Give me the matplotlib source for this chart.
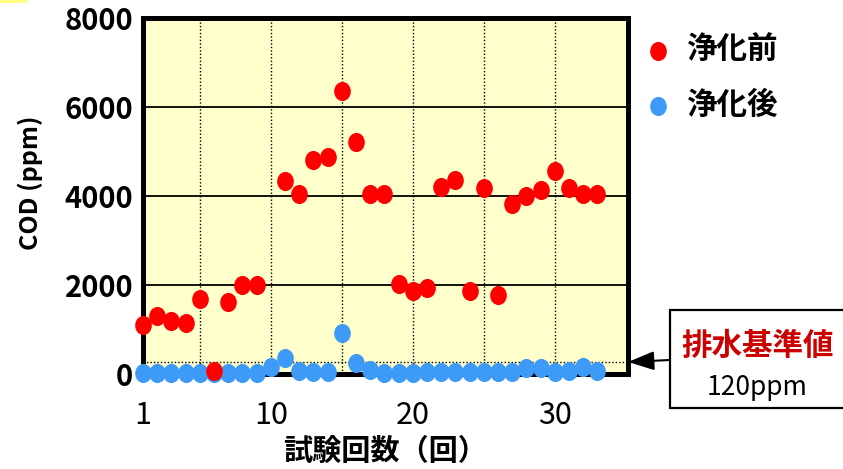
import numpy as np
import matplotlib
matplotlib.use("Agg")
import matplotlib.pyplot as plt
from matplotlib.path import Path
from matplotlib.transforms import Affine2D
from matplotlib.patches import Rectangle

plt.rcParams['font.family'] = ['Noto Sans CJK JP', 'DejaVu Sans']

# 試験回数 1..33
runs = np.arange(1, 34)
# 浄化前 COD (ppm) - run 10 has no value
before = [1100, 1310, 1190, 1140, 1690, 75, 1625, 2010, 2010, np.nan,
          4340, 4040, 4800, 4870, 6360, 5220, 4040, 4040, 2020, 1865,
          1940, 4200, 4360, 1870, 4170, 1775, 3820, 4010, 4130, 4570,
          4190, 4040, 4040]
# 浄化後 COD (ppm)
after = [15, 15, 15, 15, 15, 15, 15, 15, 15, 150,
         370, 65, 50, 50, 930, 255, 90, 30, 30, 30,
         50, 50, 50, 50, 50, 50, 50, 130, 130, 50,
         60, 165, 60]
yticks = [0, 2000, 4000, 6000, 8000]
xticks = [1, 10, 20, 30]
limit_line = 270   # drawn position of the 120ppm guide line
limit_title = "排水基準値"
limit_text = "120ppm"

# slightly tall ellipse marker
ell = Path.unit_circle().transformed(Affine2D().scale(0.87, 1.0))

fig = plt.figure(figsize=(8.43, 4.69), dpi=100)
ax = fig.add_axes([0.1696, 0.2026, 0.5754, 0.7590])
ax.set_facecolor('#ffffcc')

ax.scatter(runs, after, s=190, marker=ell, color='#3d9bf7', lw=0,
           zorder=4, clip_on=False, label='浄化後')
ax.scatter(runs, before, s=190, marker=ell, color='#ff0000', lw=0,
           zorder=5, clip_on=False, label='浄化前')

ax.set_xlim(1, 35.15)
ax.set_ylim(0, 8000)

for v in [2000, 4000, 6000]:
    ax.axhline(v, color='black', lw=1.3, zorder=1)
for v in range(5, 35, 5):
    ax.axvline(v, color='black', lw=1.0, ls=(0, (1, 1.5)), zorder=1)
ax.axhline(limit_line, color='black', lw=1.0, ls=(0, (1, 1.5)), zorder=1)

for s in ax.spines.values():
    s.set_linewidth(3.6)
    s.set_color('black')
    s.set_zorder(3)

ax.set_yticks(yticks)
ax.set_yticklabels([str(v) for v in yticks], fontsize=21, fontweight='bold')
ax.set_xticks(xticks)
ax.set_xticklabels([str(v) for v in xticks], fontsize=22)
ax.tick_params(axis='y', length=0, pad=7)
ax.tick_params(axis='x', length=0, pad=19)

ax.set_xlabel('試験回数（回）', fontsize=21, fontweight='bold', labelpad=3)
ax.set_ylabel('COD (ppm)', fontsize=18, fontweight='bold')
ax.yaxis.set_label_coords(-0.207, 0.537)

h, l = ax.get_legend_handles_labels()
ax.legend(h[::-1], l[::-1], loc='upper left', bbox_to_anchor=(0.733, 0.98),
          bbox_transform=fig.transFigure, frameon=False,
          prop={'size': 22, 'weight': 'bold'}, handletextpad=0.45,
          labelspacing=0.75, borderpad=0.3, handlelength=1.0)

# annotation box for the discharge standard
fig.patches.append(Rectangle((0.7948, 0.130), 0.25, 0.209, transform=fig.transFigure,
                             facecolor='white', edgecolor='black', lw=1.6, zorder=2))
fig.text(0.899, 0.262, limit_title, color='#cc0000', fontsize=22, fontweight='bold',
         ha='center', va='center')
fig.text(0.898, 0.173, limit_text, color='black', fontsize=19,
         ha='center', va='center')
ax.annotate('', xy=(1.0, limit_line), xycoords=('axes fraction', 'data'),
            xytext=(0.7948, (469 - 360) / 469), textcoords='figure fraction',
            arrowprops=dict(arrowstyle='-|>,head_length=1.6,head_width=0.58',
                            mutation_scale=10, color='black', lw=1.5,
                            shrinkA=0, shrinkB=0))

# little yellow strip at the top-left corner
fig.patches.append(Rectangle((0, 1 - 3 / 469), 27 / 843, 3 / 469, transform=fig.transFigure,
                             facecolor='#ffff80', edgecolor='none'))

fig.savefig('out.png', dpi=100)
